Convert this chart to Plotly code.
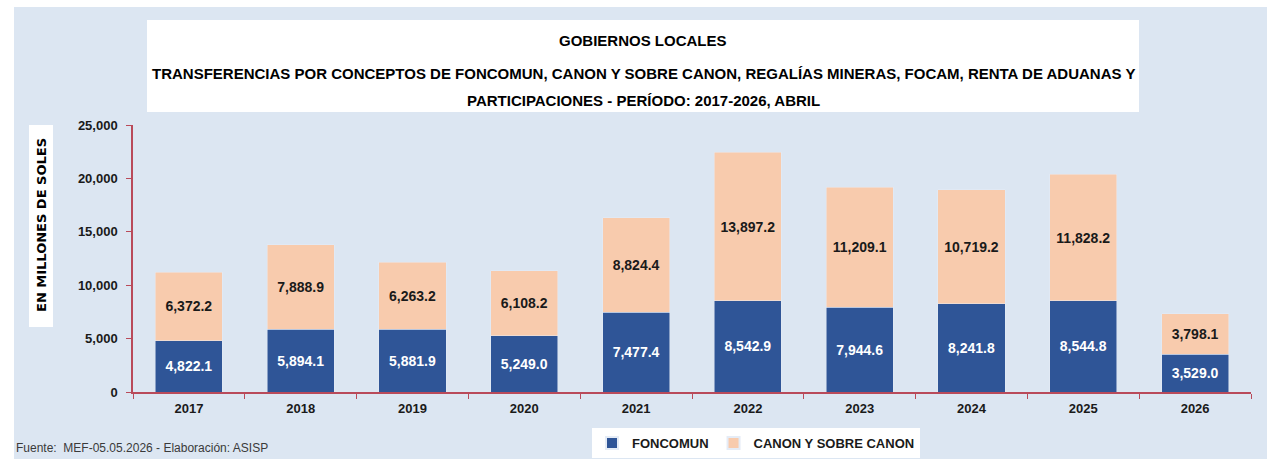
import plotly.graph_objects as go

years = ["2017", "2018", "2019", "2020", "2021", "2022", "2023", "2024", "2025", "2026"]
foncomun = [4822.1, 5894.1, 5881.9, 5249.0, 7477.4, 8542.9, 7944.6, 8241.8, 8544.8, 3529.0]
canon = [6372.2, 7888.9, 6263.2, 6108.2, 8824.4, 13897.2, 11209.1, 10719.2, 11828.2, 3798.1]

series_names = ["FONCOMUN", "CANON Y SOBRE CANON"]
title_lines = [
    "GOBIERNOS LOCALES",
    "TRANSFERENCIAS POR CONCEPTOS DE FONCOMUN, CANON Y SOBRE CANON, REGALÍAS MINERAS, FOCAM, RENTA DE ADUANAS Y",
    "PARTICIPACIONES - PERÍODO: 2017-2026, ABRIL",
]
y_title = "EN MILLONES DE SOLES"
footnote = "Fuente:  MEF-05.05.2026 - Elaboración: ASISP"

FONT = "Liberation Sans, Arial, sans-serif"
BLUE = "#2f5597"
PEACH = "#f8cbad"
AXIS = "#b94a5a"
BG = "#dce6f2"

W, H = 1277, 459
L, R, T, B = 133, 26, 125, 67
PW, PH = W - L - R, H - T - B


def px(x):
    return (x - L) / PW


def py(y):
    return (H - B - y) / PH


fig = go.Figure()
fig.add_trace(go.Bar(
    x=years, y=foncomun, name=series_names[0], marker_color=BLUE,
    text=[f"{v:,.1f}" for v in foncomun], textposition="inside",
    insidetextanchor="middle", constraintext="none",
    textfont=dict(family=FONT, size=14, color="white", weight="bold"),
    hoverinfo="x+y",
))
fig.add_trace(go.Bar(
    x=years, y=canon, name=series_names[1], marker_color=PEACH,
    text=[f"{v:,.1f}" for v in canon], textposition="inside",
    insidetextanchor="middle", constraintext="none",
    textfont=dict(family=FONT, size=14, color="#1a1a1a", weight="bold"),
    hoverinfo="x+y",
))

shapes = [
    dict(type="rect", xref="paper", yref="paper", x0=px(14), x1=px(1267), y0=py(460), y1=py(7),
         fillcolor=BG, line_width=0, layer="below"),
    dict(type="rect", xref="paper", yref="paper", x0=px(147), x1=px(1139), y0=py(112), y1=py(20),
         fillcolor="white", line_width=0, layer="below"),
    dict(type="rect", xref="paper", yref="paper", x0=px(29), x1=px(53), y0=py(327), y1=py(125),
         fillcolor="white", line_width=0, layer="below"),
]

annotations = []
for line, yy in zip(title_lines, [40, 73, 100]):
    annotations.append(dict(text=f"<b>{line}</b>", xref="paper", yref="paper", x=px(643), y=py(yy),
                            xanchor="center", yanchor="middle", showarrow=False,
                            font=dict(family=FONT, size=15, color="#000000")))
annotations.append(dict(text=f"<b>{y_title}</b>", xref="paper", yref="paper", x=px(41), y=py(225),
                        textangle=-90, xanchor="center", yanchor="middle", showarrow=False,
                        font=dict(family="DejaVu Sans", size=13, color="#000000")))
annotations.append(dict(text=footnote, xref="paper", yref="paper", x=px(14), y=py(448),
                        xanchor="left", yanchor="middle", showarrow=False,
                        font=dict(family=FONT, size=12, color="#3a3a3a")))

fig.update_layout(
    width=W, height=H,
    margin=dict(l=L, r=R, t=T, b=B, pad=0, autoexpand=False),
    barmode="stack", bargap=0.40,
    paper_bgcolor="white", plot_bgcolor="white",
    shapes=shapes, annotations=annotations,
    showlegend=True,
    legend=dict(orientation="h", xref="container", yref="container",
                x=756 / W, y=1 - 443 / H, xanchor="center", yanchor="middle",
                bgcolor="white", font=dict(family=FONT, size=13, color="#1a1a1a", weight="bold"),
                itemsizing="constant", traceorder="normal"),
    xaxis=dict(type="category", showline=True, linecolor=AXIS, linewidth=1.5, automargin=False,
               ticks="outside", tickson="boundaries", ticklen=5, tickcolor=AXIS,
               ticklabelstandoff=4,
               tickfont=dict(family=FONT, size=13, color="#1a1a1a", weight="bold"),
               showgrid=False, zeroline=False),
    yaxis=dict(range=[0, 25000], dtick=5000, tickformat=",", showline=True, linecolor=AXIS,
               linewidth=1.5, ticks="outside", ticklen=5, tickcolor=AXIS, showgrid=False,
               zeroline=False, ticklabelstandoff=6, automargin=False,
               tickfont=dict(family=FONT, size=13, color="#1a1a1a", weight="bold")),
)

fig.write_html("out.html", config={"displayModeBar": False},
               post_script="document.body.style.margin='0px';")
